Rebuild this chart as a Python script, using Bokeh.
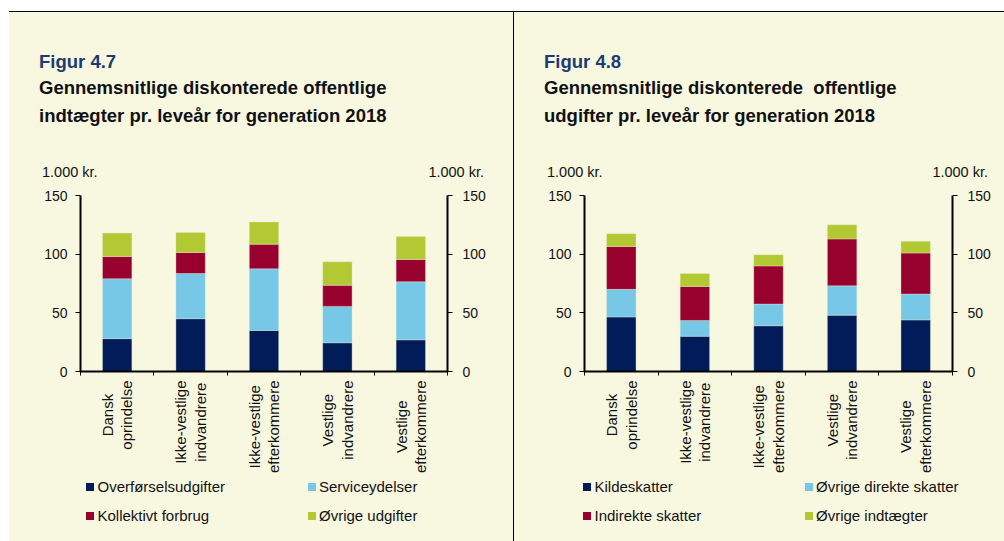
import math
from bokeh.plotting import figure
from bokeh.models import Range1d, LinearAxis, FixedTicker, ColumnDataSource, Spacer, Div
from bokeh.core.properties import value
from bokeh.layouts import row, column
from bokeh.embed import file_html
from bokeh.resources import INLINE

# ---------------- data ----------------
categories = ["Dansk\noprindelse", "Ikke-vestlige\nindvandrere", "Ikke-vestlige\nefterkommere",
              "Vestlige\nindvandrere", "Vestlige\nefterkommere"]

# Figur 4.7 (1.000 kr.)
overforsel = [28, 45, 35, 24.5, 27]
service = [51, 38.5, 52.5, 31, 49.5]
kollektivt = [19, 18, 21, 18, 19]
ovrige_udg = [20, 17, 19, 20, 19.5]
left_names = ["Overførselsudgifter", "Serviceydelser", "Kollektivt forbrug", "Øvrige udgifter"]

# Figur 4.8 (1.000 kr.)
kilde = [46.5, 30, 39, 48, 44]
direkte = [23.5, 13.5, 18.5, 25, 22]
indirekte = [36.5, 29, 32.5, 40, 35]
ovrige_indt = [11, 11, 9.5, 12, 10]
right_names = ["Kildeskatter", "Øvrige direkte skatter", "Indirekte skatter", "Øvrige indtægter"]

y_ticks = [0, 50, 100, 150]
unit_label = "1.000 kr."

COLORS = ["#021c5a", "#76c8e6", "#98002e", "#b2c934"]
CREAM = "#f8f8e1"
NAVY = "#1d3a72"
FONT = "Liberation Sans"
TXT = "#111111"

TOP_H = 170      # title block
CHART_H = 197    # 13 + 176 frame + 8
CAT_H = 100      # category labels
LEG_H = 62       # legend


def title_div(width, fig_label, title1, title2, title_x, unit_lx, unit_rx):
    base = f"position:absolute;font-family:'{FONT}';white-space:nowrap;"
    html = (
        f"<div style=\"position:relative;width:{width}px;height:{TOP_H}px;background:{CREAM};overflow:hidden;\">"
        f"<div style=\"{base}left:{title_x}px;top:40px;font-size:18.5px;line-height:20px;"
        f"font-weight:bold;color:{NAVY};\">{fig_label}</div>"
        f"<div style=\"{base}left:{title_x}px;top:66px;font-size:18.5px;line-height:20px;"
        f"font-weight:bold;color:#111;\">{title1}</div>"
        f"<div style=\"{base}left:{title_x}px;top:94px;font-size:18.5px;line-height:20px;"
        f"font-weight:bold;color:#111;\">{title2}</div>"
        f"<div style=\"{base}left:{unit_lx}px;top:152px;font-size:14.5px;line-height:16px;"
        f"color:{TXT};\">{unit_label}</div>"
        f"<div style=\"{base}right:{width - unit_rx}px;top:152px;font-size:14.5px;line-height:16px;"
        f"color:{TXT};\">{unit_label}</div>"
        "</div>"
    )
    return Div(text=html, width=width, height=TOP_H, margin=0,
               styles={"background-color": CREAM})


def legend_div(width, names, leg_x0):
    col_dx = 221.5
    pos = [(leg_x0, 0), (leg_x0 + col_dx, 0), (leg_x0, 29), (leg_x0 + col_dx, 29)]
    parts = [f"<div style=\"position:relative;width:{width}px;height:{LEG_H}px;background:{CREAM};overflow:hidden;\">"]
    for (x, y), name, c in zip(pos, names, COLORS):
        parts.append(
            f"<div style=\"position:absolute;left:{x}px;top:{y + 4}px;width:8px;height:8px;"
            f"background:{c};\"></div>"
            f"<div style=\"position:absolute;left:{x + 11.5}px;top:{y}px;font-family:'{FONT}';"
            f"font-size:15px;line-height:16px;white-space:nowrap;color:{TXT};\">{name}</div>"
        )
    parts.append("</div>")
    return Div(text="".join(parts), width=width, height=LEG_H, margin=0,
               styles={"background-color": CREAM})


def styled_fig(**kw):
    f = figure(output_backend="svg", toolbar_location=None, x_axis_location=None,
               y_axis_location=None, **kw)
    f.background_fill_color = CREAM
    f.border_fill_color = CREAM
    f.border_fill_alpha = 0
    f.outline_line_color = None
    f.grid.visible = False
    f.styles = {"background-color": CREAM}
    return f


def panel(width, frame_left, frame_width, series, names, fig_label, title1, title2,
          title_x, unit_lx, unit_rx, leg_x0):
    n = len(categories)
    right_border = width - frame_left - frame_width
    top = title_div(width, fig_label, title1, title2, title_x, unit_lx, unit_rx)

    # ---- chart ----
    xr = Range1d(0, n)
    p = styled_fig(width=width, height=CHART_H, x_range=xr, y_range=Range1d(0, 150),
                   min_border_left=frame_left, min_border_right=right_border,
                   min_border_top=13, min_border_bottom=8)

    xs = [i + 0.5 for i in range(n)]
    data = {"x": xs}
    keys = []
    for i, s in enumerate(series):
        data[f"s{i}"] = s
        keys.append(f"s{i}")
    src = ColumnDataSource(data)
    p.vbar_stack(keys, x="x", width=0.4, source=src, color=COLORS,
                 line_color="#e8ecd8", line_width=0.6, line_alpha=0.6)

    def style_y(ax, standoff):
        ax.ticker = FixedTicker(ticks=y_ticks, minor_ticks=[])
        ax.axis_line_width = 2
        ax.axis_line_color = "black"
        ax.major_tick_line_color = "black"
        ax.major_tick_line_width = 1
        ax.major_tick_out = 5
        ax.major_tick_in = 0
        ax.minor_tick_line_color = None
        ax.major_label_text_font = FONT
        ax.major_label_text_font_size = "14px"
        ax.major_label_text_color = TXT
        ax.major_label_standoff = standoff

    yl = LinearAxis()
    style_y(yl, 8)
    p.add_layout(yl, "left")
    p.extra_y_ranges = {"r": Range1d(0, 150)}
    yr = LinearAxis(y_range_name="r")
    style_y(yr, 10)
    p.add_layout(yr, "right")

    xa = LinearAxis()
    xa.ticker = FixedTicker(ticks=list(range(n + 1)), minor_ticks=[])
    xa.major_label_overrides = {i: "" for i in range(n + 1)}
    xa.major_label_text_font_size = "0px"
    xa.major_label_standoff = 0
    xa.axis_line_width = 2
    xa.axis_line_color = "black"
    xa.major_tick_line_color = "black"
    xa.major_tick_out = 4
    xa.major_tick_in = 0
    xa.minor_tick_line_color = None
    p.add_layout(xa, "below")

    # ---- category labels (same frame and x range as the chart) ----
    cats = styled_fig(width=width, height=CAT_H, x_range=xr, y_range=Range1d(CAT_H, 0),
                      min_border_left=frame_left, min_border_right=right_border,
                      min_border_top=0, min_border_bottom=0)
    cats.text(x=xs, y=[1] * n, text=categories, angle=math.pi / 2, anchor="center_right",
              text_align="center", text_font=value(FONT), text_font_size="15px",
              text_color=TXT, text_line_height=1.15)

    leg = legend_div(width, names, leg_x0)
    return column(top, p, cats, leg, spacing=0, styles={"background-color": CREAM})


left = panel(504, 71, 367, [overforsel, service, kollektivt, ovrige_udg], left_names,
             "Figur 4.7", "Gennemsnitlige diskonterede offentlige",
             "indtægter pr. leveår for generation 2018",
             title_x=30, unit_lx=33, unit_rx=475, leg_x0=77)
right = panel(490, 70, 368, [kilde, direkte, indirekte, ovrige_indt], right_names,
              "Figur 4.8", "Gennemsnitlige diskonterede&nbsp; offentlige",
              "udgifter pr. leveår for generation 2018",
              title_x=30, unit_lx=33, unit_rx=474, leg_x0=69)

PANEL_H = TOP_H + CHART_H + CAT_H + LEG_H
vline = Spacer(width=1, height=PANEL_H, styles={"background-color": "black"})
hline = Spacer(width=995, height=1, styles={"background-color": "black"})

layout = column(
    Spacer(width=1004, height=11),
    row(Spacer(width=9, height=1), hline, spacing=0),
    row(Spacer(width=9, height=PANEL_H), left, vline, right, spacing=0),
    spacing=0,
)
open("out.html", "w").write(file_html(layout, INLINE))
